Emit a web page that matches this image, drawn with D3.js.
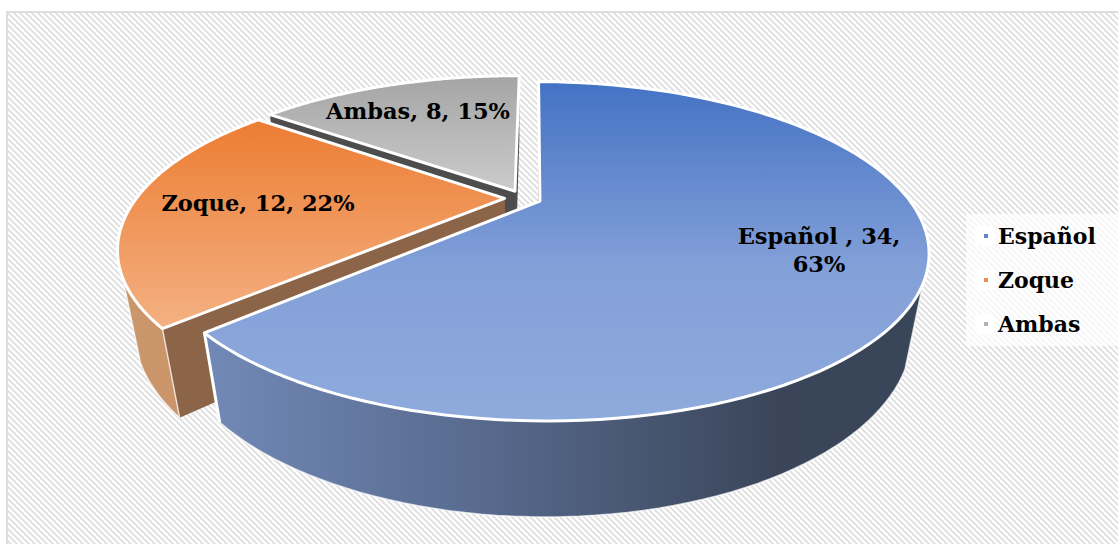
<!DOCTYPE html>
<html><head><meta charset="utf-8">
<script src="https://cdn.jsdelivr.net/npm/d3@7"></script>
<style>html,body{margin:0;padding:0;background:#fff}svg{display:block}text{font-family:"DejaVu Serif",serif;font-weight:700;fill:#000}</style>
</head><body><div id="c"></div>
<script>
const categories=["Español ","Zoque","Ambas"];
const legendNames=["Español","Zoque","Ambas"];
const values=[34,12,8];
const percents=["63%","22%","15%"];
const topStops=[[["0","#4472c4"],["0.55","#83a0d8"],["1","#8faadc"]],[["0","#ec7d33"],["1","#f4b183"]],[["0","#a5a5a5"],["1","#cbcbcb"]]];
const outerWall=[[["0","#7289b7"],["0.35","#5a6d92"],["0.8","#3a4559"],["1","#394559"]],[["0","#c9966c"],["1","#cc9469"]],[["0","#4d4d4d"],["1","#4d4d4d"]]];
const sideWall=["#2f3b52","#8c6448","#4d4d4d"];
const legendColors=["#4472c4","#ed7d31","#a5a5a5"];

const W=1118,H=544;
const svg=d3.select("#c").append("svg").attr("width",W).attr("height",H);
const defs=svg.append("defs");
const pat=defs.append("pattern").attr("id","hatch").attr("patternUnits","userSpaceOnUse").attr("width",6).attr("height",6);
pat.append("rect").attr("width",6).attr("height",6).attr("fill","#fff");
d3.range(6).forEach(r=>{[0,1,2].forEach(c=>{
  pat.append("rect").attr("x",(r+c)%6).attr("y",r).attr("width",1).attr("height",1).attr("fill","#e3e3e3");
});});
svg.append("rect").attr("x",7).attr("y",12).attr("width",W).attr("height",H).attr("fill","url(#hatch)").attr("stroke","#dedede").attr("stroke-width",2);

// perspective model of the pie plane
const P={cx:523,cy:198,R:368,S:153,k:0.294,m:0.04,T:80,e:0.05,rot:0.5*Math.PI/180,front:-0.45};
function project(u,v,z){const w=1+P.k*v+P.m*z;return [P.cx+P.R*u/w,P.cy+(-P.S*v+P.T*z)/w];}

const arcs=d3.pie().sort(null).value(d=>d).startAngle(P.rot).endAngle(P.rot+2*Math.PI)(values);
const line=d3.line();
function grad(id,stops,x2,y2){const g=defs.append("linearGradient").attr("id",id).attr("x1",0).attr("y1",0).attr("x2",x2).attr("y2",y2);
  stops.forEach(s=>g.append("stop").attr("offset",s[0]).attr("stop-color",s[1]));}

const pieG=svg.append("g");
// paint back to front: Ambas, Zoque, Español
[2,1,0].forEach(i=>{
  const a=arcs[i],mid=(a.startAngle+a.endAngle)/2;
  const ox=P.e*Math.sin(mid),oy=P.e*Math.cos(mid);
  const pt=(t,z)=>project(ox+Math.sin(t),oy+Math.cos(t),z);
  const apex=z=>project(ox,oy,z);
  const ts=d3.range(0,121).map(j=>a.startAngle+(a.endAngle-a.startAngle)*j/120);
  grad("top"+i,topStops[i],0,1);
  grad("wall"+i,outerWall[i],1,0);
  const g=pieG.append("g").attr("stroke","#fff").attr("stroke-linejoin","round");
  // radial walls
  [a.startAngle,a.endAngle].forEach(t=>{
    g.append("path").attr("d",line([apex(0),pt(t,0),pt(t,1),apex(1)])+"Z").attr("fill",sideWall[i]).attr("stroke","none");
  });
  // outer wall: only the part of the rim that faces the viewer
  const front=ts.filter(t=>Math.cos(t)<P.front);
  if(front.length>1){
    const wallPts=front.map(t=>pt(t,0)).concat(front.slice().reverse().map(t=>pt(t,1)));
    g.append("path").attr("d",line(wallPts)+"Z").attr("fill",`url(#wall${i})`).attr("stroke-width",1.5).attr("stroke-opacity",0.7);
    g.append("path").attr("d",line([pt(a.endAngle,0),pt(a.endAngle,1)])).attr("fill","none").attr("stroke-width",3);
  }
  // top surface
  g.append("path").attr("d",line([apex(0)].concat(ts.map(t=>pt(t,0))))+"Z").attr("fill",`url(#top${i})`).attr("stroke-width",3);
});

// data labels
const labelSize=22.5;
const labelLines=[[categories[0]+", "+values[0]+",",percents[0]],[categories[1]+", "+values[1]+", "+percents[1]],[categories[2]+", "+values[2]+", "+percents[2]]];
const labelAnchor=[[819,244],[258,211],[418,119]];
labelLines.forEach((ls,i)=>{
  const t=svg.append("text").attr("text-anchor","middle").style("font-size",labelSize+"px");
  ls.forEach((s,j)=>t.append("tspan").attr("x",labelAnchor[i][0]).attr("y",labelAnchor[i][1]+j*28).text(s));
});

// legend
const ly=d3.scalePoint().domain(legendNames).range([236,324]);
svg.append("rect").attr("x",966).attr("y",214).attr("width",152).attr("height",132).attr("fill","#fff").attr("opacity",0.7);
legendNames.forEach((n,i)=>{
  svg.append("rect").attr("x",975).attr("y",ly(n)-10).attr("width",20).attr("height",20).attr("rx",4).attr("fill","#fff");
  svg.append("rect").attr("x",984).attr("y",ly(n)-2).attr("width",4).attr("height",4).attr("fill",legendColors[i]).attr("opacity",0.85);
  svg.append("text").attr("x",998).attr("y",ly(n)+8).style("font-size","22px").text(n);
});
</script></body></html>
